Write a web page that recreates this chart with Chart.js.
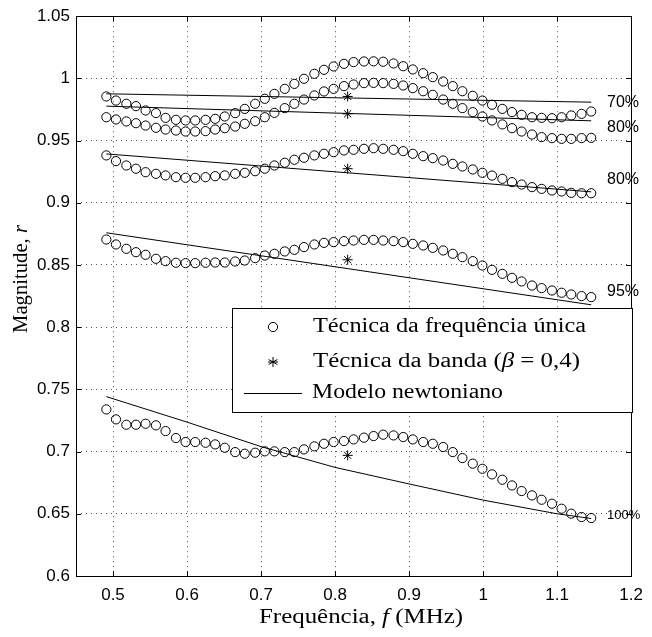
<!DOCTYPE html>
<html>
<head>
<meta charset="utf-8">
<script src="https://cdn.jsdelivr.net/npm/chart.js@4.4.1/dist/chart.umd.min.js"></script>
<style>
  html, body { margin: 0; padding: 0; background: #fff; }
</style>
</head>
<body>
<canvas id="chart" width="652" height="637"></canvas>
<script>
// frequencies of the single-frequency measurements (MHz)
const freq = [0.491, 0.504, 0.518, 0.531, 0.544, 0.558, 0.571, 0.585, 0.598, 0.611,
              0.625, 0.638, 0.651, 0.665, 0.678, 0.692, 0.705, 0.718, 0.732, 0.745,
              0.758, 0.772, 0.785, 0.798, 0.812, 0.825, 0.839, 0.852, 0.865, 0.879,
              0.892, 0.905, 0.919, 0.932, 0.946, 0.959, 0.972, 0.986, 0.999, 1.012,
              1.026, 1.039, 1.052, 1.066, 1.079, 1.093, 1.106, 1.119, 1.133, 1.146];

// magnitude r, single frequency technique
const r70 = [0.9855, 0.9822, 0.9796, 0.9777, 0.9742, 0.9721, 0.9683, 0.9667, 0.9662, 0.9662,
             0.9667, 0.9675, 0.9694, 0.9721, 0.9755, 0.9796, 0.9836, 0.9876, 0.9916, 0.9956,
             0.9997, 1.0037, 1.0069, 1.0096, 1.0117, 1.0131, 1.0136, 1.0137, 1.0134, 1.0120,
             1.0098, 1.0072, 1.0042, 1.0010, 0.9975, 0.9938, 0.9897, 0.9860, 0.9822, 0.9788,
             0.9755, 0.9729, 0.9707, 0.9688, 0.9683, 0.9680, 0.9688, 0.9702, 0.9715, 0.9734];
const r80a = [0.9688, 0.9670, 0.9654, 0.9640, 0.9621, 0.9603, 0.9589, 0.9581, 0.9573, 0.9573,
              0.9576, 0.9589, 0.9600, 0.9613, 0.9635, 0.9656, 0.9688, 0.9723, 0.9761, 0.9796,
              0.9830, 0.9863, 0.9895, 0.9916, 0.9938, 0.9951, 0.9962, 0.9964, 0.9962, 0.9956,
              0.9943, 0.9922, 0.9897, 0.9868, 0.9830, 0.9796, 0.9761, 0.9729, 0.9694, 0.9662,
              0.9630, 0.9600, 0.9573, 0.9549, 0.9528, 0.9520, 0.9514, 0.9514, 0.9520, 0.9522];
const r80b = [0.9381, 0.9335, 0.9300, 0.9274, 0.9246, 0.9233, 0.9220, 0.9206, 0.9201, 0.9201,
              0.9206, 0.9214, 0.9220, 0.9233, 0.9241, 0.9254, 0.9274, 0.9300, 0.9322, 0.9346,
              0.9362, 0.9381, 0.9394, 0.9407, 0.9421, 0.9426, 0.9434, 0.9439, 0.9434, 0.9426,
              0.9415, 0.9394, 0.9375, 0.9359, 0.9340, 0.9313, 0.9292, 0.9268, 0.9241, 0.9219,
              0.9193, 0.9166, 0.9147, 0.9126, 0.9112, 0.9099, 0.9091, 0.9080, 0.9077, 0.9077];
const r95 = [0.8705, 0.8665, 0.8630, 0.8603, 0.8582, 0.8550, 0.8531, 0.8518, 0.8515, 0.8515,
             0.8518, 0.8520, 0.8520, 0.8528, 0.8536, 0.8555, 0.8576, 0.8590, 0.8609, 0.8622,
             0.8644, 0.8665, 0.8678, 0.8684, 0.8692, 0.8697, 0.8702, 0.8702, 0.8697, 0.8692,
             0.8684, 0.8670, 0.8657, 0.8638, 0.8617, 0.8590, 0.8563, 0.8531, 0.8496, 0.8461,
             0.8429, 0.8397, 0.8368, 0.8335, 0.8314, 0.8295, 0.8277, 0.8263, 0.8250, 0.8242];
const r100 = [0.7339, 0.7259, 0.7216, 0.7216, 0.7224, 0.7211, 0.7165, 0.7109, 0.7077, 0.7077,
              0.7071, 0.7058, 0.7031, 0.6996, 0.6983, 0.6991, 0.7002, 0.7002, 0.6996, 0.6996,
              0.7018, 0.7042, 0.7063, 0.7077, 0.7085, 0.7098, 0.7112, 0.7125, 0.7136, 0.7130,
              0.7117, 0.7098, 0.7077, 0.7063, 0.7037, 0.6996, 0.6948, 0.6903, 0.6862, 0.6817,
              0.6774, 0.6728, 0.6683, 0.6648, 0.6613, 0.6581, 0.6541, 0.6501, 0.6474, 0.6466];

// band technique (beta = 0,4)
const bandFreq = 0.817;
const bandValues = [0.9855, 0.9715, 0.9274, 0.8542, 0.6970];

// newtonian model
const modelFreq = [0.491, 1.146];
const model70 = [0.9876, 0.9809];
const model80a = [0.9777, 0.9659];
const model80b = [0.9393, 0.9088];
const model95 = [0.8759, 0.8180];
const model100Freq = [0.491, 0.6, 0.7, 0.8, 0.9, 1.0, 1.1, 1.146];
const model100 = [0.7442, 0.7237, 0.7040, 0.6873, 0.6740, 0.6610, 0.6500, 0.6462];

// percentage labels at the right
const pctLabels = ['70%', '80%', '80%', '95%', '100%'];
const pctY = [103, 128, 180, 292, 515];

const serif = '"Liberation Serif", serif';
const sans = '"Liberation Sans", Arial, sans-serif';

const toXY = (xs, ys) => ys.map((y, i) => ({ x: xs[i], y: y }));

const datasets = [];
[model70, model80a, model80b, model95].forEach(m => {
    datasets.push({ type: 'line', data: toXY(modelFreq, m), borderColor: '#000', borderWidth: 1,
                    pointRadius: 0, tension: 0, fill: false });
});
datasets.push({ type: 'line', data: toXY(model100Freq, model100), borderColor: '#000', borderWidth: 1,
                pointRadius: 0, tension: 0, fill: false });
[r70, r80a, r80b, r95, r100].forEach(s => {
    datasets.push({ data: toXY(freq, s), pointStyle: 'circle', pointRadius: 4.6,
                    borderColor: '#000', borderWidth: 1, backgroundColor: 'rgba(0,0,0,0)' });
});
datasets.push({ data: bandValues.map(v => ({ x: bandFreq, y: v })), pointStyle: 'star', pointRadius: 5,
                borderColor: '#000', borderWidth: 1, backgroundColor: '#000' });

// text drawn in pieces (italic parts), stretched to a given width
function drawRich(ctx, parts, x, y, width, size, align) {
    ctx.save();
    let natural = 0;
    parts.forEach(p => {
        ctx.font = (p[1] ? 'italic ' : '') + size + 'px ' + serif;
        natural += ctx.measureText(p[0]).width;
    });
    const sx = width ? width / natural : 1;
    ctx.translate(x, y);
    ctx.scale(sx, 1);
    let cx = align === 'center' ? -natural / 2 : 0;
    ctx.textBaseline = 'middle';
    ctx.textAlign = 'left';
    ctx.fillStyle = '#000';
    parts.forEach(p => {
        ctx.font = (p[1] ? 'italic ' : '') + size + 'px ' + serif;
        ctx.fillText(p[0], cx, 0);
        cx += ctx.measureText(p[0]).width;
    });
    ctx.restore();
}

const frame = {
    id: 'frame',
    afterDatasetsDraw(chart) {
        const ctx = chart.ctx;
        const a = chart.chartArea;
        const sx = chart.scales.x, sy = chart.scales.y;
        ctx.save();
        ctx.strokeStyle = '#000';
        ctx.lineWidth = 1;
        // inward tick marks on all four sides
        ctx.beginPath();
        sx.ticks.forEach(t => {
            const px = Math.round(sx.getPixelForValue(t.value)) + 0.5;
            ctx.moveTo(px, a.bottom); ctx.lineTo(px, a.bottom - 5);
            ctx.moveTo(px, a.top); ctx.lineTo(px, a.top + 5);
        });
        sy.ticks.forEach(t => {
            const py = Math.round(sy.getPixelForValue(t.value)) + 0.5;
            ctx.moveTo(a.left, py); ctx.lineTo(a.left + 5, py);
            ctx.moveTo(a.right, py); ctx.lineTo(a.right - 5, py);
        });
        ctx.stroke();
        ctx.strokeRect(Math.round(a.left) + 0.5, Math.round(a.top) + 0.5,
                       Math.round(a.width), Math.round(a.height));

        // percentage labels
        ctx.fillStyle = '#000';
        ctx.textBaseline = 'middle';
        ctx.textAlign = 'left';
        pctLabels.forEach((t, i) => {
            ctx.font = (t === '100%' ? 13 : 16) + 'px ' + sans;
            ctx.fillText(t, 607, pctY[i]);
        });

        // legend
        ctx.fillStyle = '#fff';
        ctx.fillRect(232.5, 308.5, 400, 104);
        ctx.strokeRect(232.5, 308.5, 400, 104);
        ctx.beginPath();
        ctx.arc(273, 327, 4.6, 0, Math.PI * 2);
        ctx.stroke();
        const sxs = 273, sys = 362, r = 5;
        ctx.beginPath();
        ctx.moveTo(sxs, sys - r); ctx.lineTo(sxs, sys + r);
        ctx.moveTo(sxs - r * 0.87, sys - r / 2); ctx.lineTo(sxs + r * 0.87, sys + r / 2);
        ctx.moveTo(sxs - r * 0.87, sys + r / 2); ctx.lineTo(sxs + r * 0.87, sys - r / 2);
        ctx.moveTo(sxs - r, sys); ctx.lineTo(sxs + r, sys);
        ctx.stroke();
        ctx.beginPath();
        ctx.moveTo(244, 393.5); ctx.lineTo(302, 393.5);
        ctx.stroke();
        drawRich(ctx, [['Técnica da frequência única', false]], 313, 327, 273, 20);
        drawRich(ctx, [['Técnica da banda (', false], ['β', true], [' = 0,4)', false]], 313, 362, 267, 20);
        drawRich(ctx, [['Modelo newtoniano', false]], 312, 393, 191, 20);

        // axis titles
        drawRich(ctx, [['Frequência, ', false], ['f', true], [' (MHz)', false]], 361, 618, 204, 20, 'center');
        ctx.save();
        ctx.translate(22, 279);
        ctx.rotate(-Math.PI / 2);
        drawRich(ctx, [['Magnitude, ', false], ['r', true]], 0, 0, 108, 20, 'center');
        ctx.restore();
        ctx.restore();
    }
};

const fmt = v => String(Number(v.toFixed(2)));

new Chart(document.getElementById('chart').getContext('2d'), {
    type: 'scatter',
    data: { datasets: datasets },
    options: {
        responsive: false,
        animation: false,
        layout: { padding: { top: 16, right: 15, left: 0, bottom: 0 } },
        plugins: { legend: { display: false }, tooltip: { enabled: false } },
        scales: {
            x: {
                type: 'linear', min: 0.45, max: 1.2,
                afterFit: s => { s.height = 61; },
                ticks: { stepSize: 0.1, includeBounds: false, padding: 9, color: '#000',
                         font: { family: sans, size: 17 }, callback: v => fmt(v) },
                grid: { color: 'rgba(0,0,0,0.7)', lineWidth: 1, drawTicks: false },
                border: { display: false, dash: [1, 4] }
            },
            y: {
                type: 'linear', min: 0.6, max: 1.05,
                afterFit: s => { s.width = 76; },
                ticks: { stepSize: 0.05, includeBounds: false, padding: 6, color: '#000',
                         font: { family: sans, size: 17 }, callback: v => fmt(v) },
                grid: { color: 'rgba(0,0,0,0.7)', lineWidth: 1, drawTicks: false },
                border: { display: false, dash: [1, 4] }
            }
        }
    },
    plugins: [frame]
});
</script>
</body>
</html>
